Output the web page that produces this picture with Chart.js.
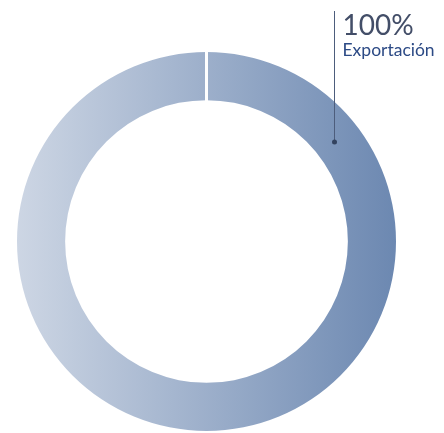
<!DOCTYPE html>
<html>
<head>
<meta charset="utf-8">
<script src="https://cdn.jsdelivr.net/npm/chart.js@4"></script>
<style>
  html, body { margin: 0; padding: 0; background: #fff; }
  #wrap { width: 444px; height: 433px; }
</style>
</head>
<body>
<div id="wrap"><canvas id="dona"></canvas></div>
<script>
var labels = ["Exportación"];
var values = [100];
var callout_text = ["100%", "Exportación"];

const ctx = document.getElementById("dona");

// horizontal gradient across the ring, light on the left, darker on the right
function ringGradient(context) {
  const chart = context.chart;
  const area = chart.chartArea;
  if (!area) return "#a3b3cc";
  const g = chart.ctx.createLinearGradient(area.left, 0, area.right, 0);
  g.addColorStop(0, "#cdd6e4");
  g.addColorStop(1, "#6c88b1");
  return g;
}

// white notch at the start of the ring + callout line with labels
const extras = {
  id: "extras",
  afterDatasetsDraw(chart) {
    const arc = chart.getDatasetMeta(0).data[0];
    if (!arc) return;
    const c = chart.ctx;
    const p = arc.getProps(["x", "y", "innerRadius", "outerRadius", "startAngle"], true);

    c.save();
    c.strokeStyle = "#ffffff";
    c.lineWidth = 3;
    c.beginPath();
    c.moveTo(p.x + Math.cos(p.startAngle) * (p.innerRadius - 1), p.y + Math.sin(p.startAngle) * (p.innerRadius - 1));
    c.lineTo(p.x + Math.cos(p.startAngle) * (p.outerRadius + 1), p.y + Math.sin(p.startAngle) * (p.outerRadius + 1));
    c.stroke();

    // callout point sits in the ring at about 52 deg from the top
    const ang = p.startAngle + 52 * Math.PI / 180;
    const r = (p.innerRadius + p.outerRadius) / 2 - 4;
    const px = Math.round(p.x + Math.cos(ang) * r) + 0.5;
    const py = p.y + Math.sin(ang) * r;

    c.strokeStyle = "#4d5d7c";
    c.lineWidth = 1;
    c.beginPath();
    c.moveTo(px, py);
    c.lineTo(px, 11);
    c.stroke();

    c.fillStyle = "#33435f";
    c.beginPath();
    c.arc(px, py, 2.5, 0, Math.PI * 2);
    c.fill();

    c.textAlign = "left";
    c.textBaseline = "alphabetic";
    c.fillStyle = "#434e68";
    c.font = "400 28px Lato";
    c.fillText(callout_text[0], px + 8, 35);
    c.fillStyle = "#2c4a85";
    c.font = "400 17.5px Lato";
    c.fillText(callout_text[1], px + 8, 56);
    c.restore();
  },
};

const dona = new Chart(ctx, {
  type: "doughnut",
  data: {
    labels: labels,
    datasets: [
      {
        data: values,
        backgroundColor: ringGradient,
        borderWidth: 0,
        hoverOffset: 0,
      },
    ],
  },
  options: {
    responsive: true,
    maintainAspectRatio: false,
    animation: false,
    cutout: "74.6%",
    layout: {
      padding: { left: 17, right: 48, top: 52, bottom: 2 },
    },
    plugins: {
      legend: { display: false },
      tooltip: { enabled: false },
    },
  },
  plugins: [extras],
});
</script>
</body>
</html>
